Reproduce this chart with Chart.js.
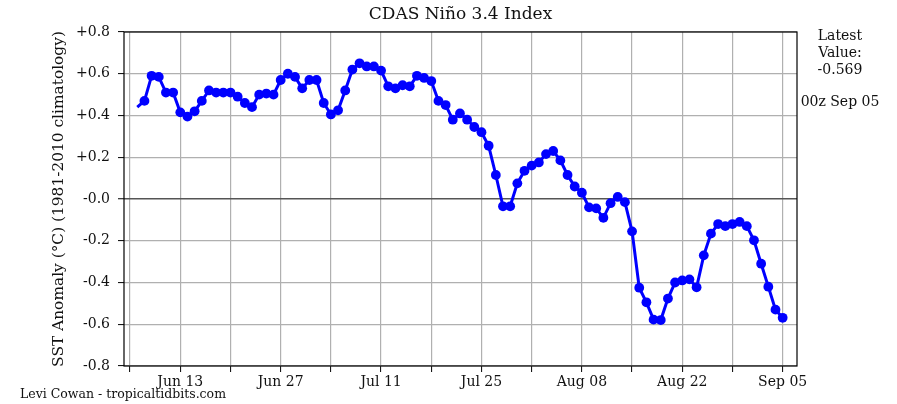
<!DOCTYPE html>
<html>
<head>
<meta charset="utf-8">
<script src="https://cdn.jsdelivr.net/npm/chart.js@4.4.0/dist/chart.umd.min.js"></script>
<style>
  html, body { margin: 0; padding: 0; background: #fff; }
</style>
</head>
<body>
<canvas id="ninoChart" width="897" height="404"></canvas>
<script>
// daily CDAS Nino 3.4 anomaly, Jun 07 .. Sep 05 (day 0 = Jun 07)
const anomaly = [
  0.44, 0.47, 0.59, 0.585, 0.51, 0.51, 0.415, 0.395, 0.42, 0.47,
  0.52, 0.51, 0.51, 0.51, 0.49, 0.46, 0.44, 0.50, 0.505, 0.50,
  0.57, 0.60, 0.585, 0.53, 0.57, 0.57, 0.46, 0.405, 0.425, 0.52,
  0.62, 0.65, 0.635, 0.635, 0.615, 0.54, 0.53, 0.545, 0.54, 0.59,
  0.58, 0.565, 0.47, 0.45, 0.38, 0.41, 0.38, 0.345, 0.32, 0.255,
  0.115, -0.035, -0.035, 0.075, 0.135, 0.16, 0.175, 0.215, 0.23, 0.185,
  0.115, 0.06, 0.03, -0.04, -0.045, -0.09, -0.02, 0.01, -0.015, -0.155,
  -0.425, -0.495, -0.578, -0.58, -0.477, -0.40, -0.39, -0.385, -0.423, -0.27,
  -0.166, -0.12, -0.13, -0.12, -0.11, -0.13, -0.198, -0.31, -0.42, -0.53,
  -0.569
]

// weekly grid (days from Jun 07), labelled every second week
const gridDays = [-1, 6, 13, 20, 27, 34, 41, 48, 55, 62, 69, 76, 83, 90]
const labelDays = [6, 20, 34, 48, 62, 76, 90]
const labelText = ['Jun 13', 'Jun 27', 'Jul 11', 'Jul 25', 'Aug 08', 'Aug 22', 'Sep 05']

const yTickLabels = ['-0.8', '-0.6', '-0.4', '-0.2', '-0.0', '+0.2', '+0.4', '+0.6', '+0.8']

const serif = '"DejaVu Serif", serif'

const points = anomaly.map((v, i) => ({ x: i, y: v }))
const radii = anomaly.map((v, i) => (i === 0 ? 0 : 4.9))

const extras = {
  id: 'extras',
  afterDraw(chart) {
    const { ctx, chartArea: a } = chart
    ctx.save()
    ctx.strokeStyle = '#000'
    ctx.lineWidth = 1.2
    ctx.strokeRect(a.left, a.top, a.right - a.left, a.bottom - a.top)

    ctx.fillStyle = '#111'
    ctx.textAlign = 'center'
    ctx.textBaseline = 'middle'
    ctx.font = '17px ' + serif
    ctx.fillText('CDAS Niño 3.4 Index', (a.left + a.right) / 2, 15)

    ctx.font = '14px ' + serif
    ctx.fillText('Latest', 840, 36)
    ctx.fillText('Value:', 840, 53)
    ctx.fillText('-0.569', 840, 70)
    ctx.fillText('00z Sep 05', 840, 102)

    ctx.font = '12.5px ' + serif
    ctx.textAlign = 'left'
    ctx.fillText('Levi Cowan - tropicaltidbits.com', 20, 395)

    ctx.translate(59, (a.top + a.bottom) / 2)
    ctx.rotate(-Math.PI / 2)
    ctx.textAlign = 'center'
    ctx.font = '15.4px ' + serif
    ctx.fillText('SST Anomaly (°C) (1981-2010 climatology)', 0, 0)
    ctx.restore()
  }
}

const ctx = document.getElementById('ninoChart').getContext('2d')

const ninoChart = new Chart(ctx, {
  type: 'line',
  data: {
    datasets: [
      {
        data: points,
        borderColor: '#0000ff',
        backgroundColor: '#0000ff',
        borderWidth: 3,
        pointRadius: radii,
        pointBorderWidth: 0,
        pointBackgroundColor: '#0000ff',
        tension: 0,
        fill: false
      }
    ]
  },
  options: {
    responsive: false,
    animation: false,
    layout: { padding: { left: 0, top: 32, right: 100, bottom: 0 } },
    plugins: {
      legend: { display: false },
      tooltip: { enabled: false }
    },
    scales: {
      x: {
        type: 'linear',
        min: -1.85,
        max: 92,
        afterFit: (s) => { s.height = 38 },
        afterBuildTicks: (s) => { s.ticks = gridDays.map((v) => ({ value: v })) },
        border: { display: false },
        grid: {
          color: '#b0b0b0',
          lineWidth: 1.2,
          tickColor: '#000',
          tickLength: 6,
          tickWidth: 1
        },
        ticks: {
          autoSkip: false,
          maxRotation: 0,
          padding: 2,
          color: '#111',
          font: { family: serif, size: 14 },
          callback: (v) => {
            const i = labelDays.indexOf(v)
            return i >= 0 ? labelText[i] : ''
          }
        }
      },
      y: {
        min: -0.8,
        max: 0.8,
        afterFit: (s) => { s.width = 124 },
        border: { display: false },
        grid: {
          color: (c) => (c.tick && Math.abs(c.tick.value) < 1e-9 ? '#555' : '#b0b0b0'),
          lineWidth: (c) => (c.tick && Math.abs(c.tick.value) < 1e-9 ? 1.5 : 1.2),
          tickColor: '#000',
          tickLength: 6,
          tickWidth: 1
        },
        ticks: {
          stepSize: 0.2,
          padding: 8,
          color: '#111',
          font: { family: serif, size: 14 },
          callback: (v, i) => yTickLabels[i]
        }
      }
    }
  },
  plugins: [extras]
})
</script>
</body>
</html>
